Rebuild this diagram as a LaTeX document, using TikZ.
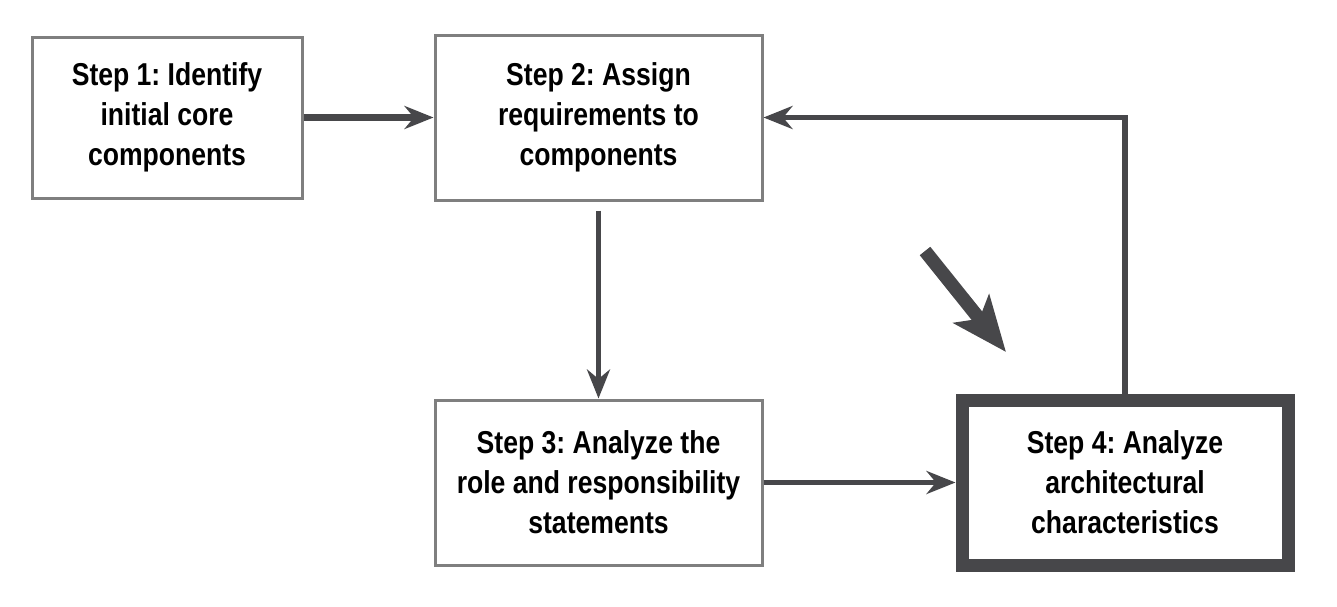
\documentclass[tikz,border=0pt]{standalone}
\usepackage{fontspec}
\setmainfont{Liberation Sans}[FakeStretch=0.84]
\usepackage{tikz}
\usetikzlibrary{arrows.meta,positioning}
\definecolor{boxgray}{HTML}{7F7F7F}
\definecolor{arrowgray}{HTML}{47474A}
\frenchspacing

\begin{document}
\begin{tikzpicture}
                [
                    stepnode/.style={rectangle, draw=boxgray, fill=white, line width=0.06cm, minimum width=5.4cm, minimum height=3.22cm, align=center, font=\fontsize{18}{22.7}\selectfont\bfseries},
                    widestep/.style={stepnode, minimum width=6.54cm, minimum height=3.3cm},
                    keystep/.style={stepnode, draw=arrowgray, line width=0.26cm, minimum width=6.52cm, minimum height=3.3cm},
                    flowarrow/.style={draw=arrowgray, line width=0.11cm, -{Stealth[length=0.58cm, width=0.46cm]}},
                ]
                \useasboundingbox (0,0) rectangle (26.74,-12.12);

                \node [stepnode] (identify) at (3.34,-2.35) {Step 1: Identify\\initial core\\components};
                \node [widestep] (assign) [right=2.6cm of identify] {Step 2: Assign\\requirements to\\components};
                \node [widestep] (analyze) [below=3.94cm of assign] {Step 3: Analyze the\\role and responsibility\\statements};
                \node [keystep] (characteristics) [right=3.84cm of analyze] {Step 4: Analyze\\architectural\\characteristics};

                \coordinate (hintstart) at (18.5,-5.02);
                \coordinate (hinttip) at (20.12,-7.04);

                \draw[flowarrow, line width=0.15cm] (identify.east) -- (assign.west);
                \draw[flowarrow, shorten <=0.18cm] (assign.south) -- (analyze.north);
                \draw[flowarrow] (analyze.east) -- (characteristics.west);
                \draw[flowarrow] (characteristics.north) |- (assign.east);

                \draw[draw=arrowgray, line width=0.27cm, -{Stealth[length=1.1cm, width=0.9cm, inset=0.25cm]}] (hintstart) -- (hinttip);

            \end{tikzpicture}
\end{document}
